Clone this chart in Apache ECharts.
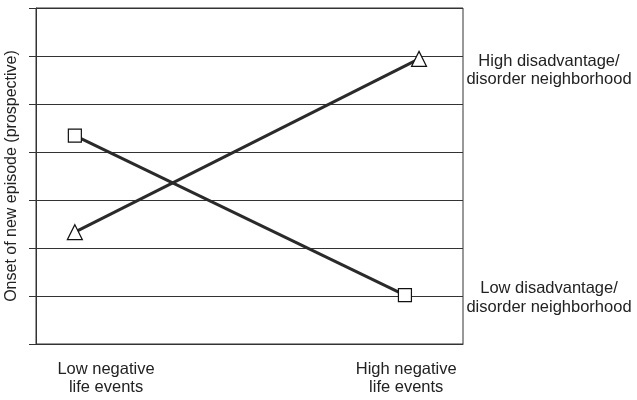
<!DOCTYPE html>
<html>
<head>
<meta charset="utf-8">
<script src="https://cdn.jsdelivr.net/npm/echarts@6/dist/echarts.min.js"></script>
<style>
  html, body { margin: 0; padding: 0; background: #fff; }
  #chart { width: 637px; height: 400px; }
</style>
</head>
<body>
<div id="chart"></div>
<script>
// x positions on a 0-10 scale, y on a 0-7 scale (one unit per gridline)
var xTickValues = [1.64, 8.67];
var xTickLabels = ['Low negative\nlife events', 'High negative\nlife events'];
var highDisorder = [[0.91, 2.33], [8.97, 5.94]];
var lowDisorder = [[0.91, 4.34], [8.64, 1.02]];
var seriesNames = ['High disadvantage/\ndisorder neighborhood', 'Low disadvantage/\ndisorder neighborhood'];

var font = 'Liberation Sans, Arial, sans-serif';
var ink = '#222';

var chart = echarts.init(document.getElementById('chart'));

var option = {
  backgroundColor: '#fff',
  animation: false,
  grid: {
    left: 36, right: 174, top: 8, bottom: 56,
    outerBoundsMode: 'none',
    containLabel: false,
    show: true, borderColor: '#333', borderWidth: 1
  },
  xAxis: {
    type: 'value', min: 0, max: 10,
    axisLine: { lineStyle: { color: '#333' } },
    axisTick: { show: false },
    splitLine: { show: false },
    axisLabel: {
      customValues: xTickValues,
      formatter: function (v) {
        var i = xTickValues.indexOf(v);
        return i >= 0 ? xTickLabels[i] : '';
      },
      color: ink, fontFamily: font, fontSize: 16.5, lineHeight: 18, margin: 16
    }
  },
  yAxis: {
    type: 'value', min: 0, max: 7, interval: 1,
    name: 'Onset of new episode (prospective)',
    nameLocation: 'middle', nameGap: 16,
    nameTextStyle: { color: ink, fontFamily: font, fontSize: 16 },
    axisLine: { show: true, lineStyle: { color: '#333' } },
    axisTick: { show: true, inside: false, length: 7, lineStyle: { color: '#333' } },
    axisLabel: { show: false },
    splitLine: { show: true, lineStyle: { color: '#333', width: 1 } }
  },
  series: [
    {
      name: seriesNames[0], type: 'line', data: highDisorder,
      symbol: 'triangle', symbolSize: 15,
      itemStyle: { color: '#fff', borderColor: '#111', borderWidth: 1.2 },
      lineStyle: { color: '#2a2a2a', width: 3 },
      z: 3
    },
    {
      name: seriesNames[1], type: 'line', data: lowDisorder,
      symbol: 'rect', symbolSize: 13,
      itemStyle: { color: '#fff', borderColor: '#111', borderWidth: 1.2 },
      lineStyle: { color: '#2a2a2a', width: 3 },
      z: 3
    }
  ],
  graphic: [
    {
      type: 'text', x: 549, y: 52,
      style: { text: seriesNames[0], fill: ink, font: '16.5px ' + font, align: 'center', verticalAlign: 'top', lineHeight: 18 }
    },
    {
      type: 'text', x: 549, y: 279,
      style: { text: seriesNames[1], fill: ink, font: '16.5px ' + font, align: 'center', verticalAlign: 'top', lineHeight: 19 }
    }
  ]
};

chart.setOption(option);
</script>
</body>
</html>
